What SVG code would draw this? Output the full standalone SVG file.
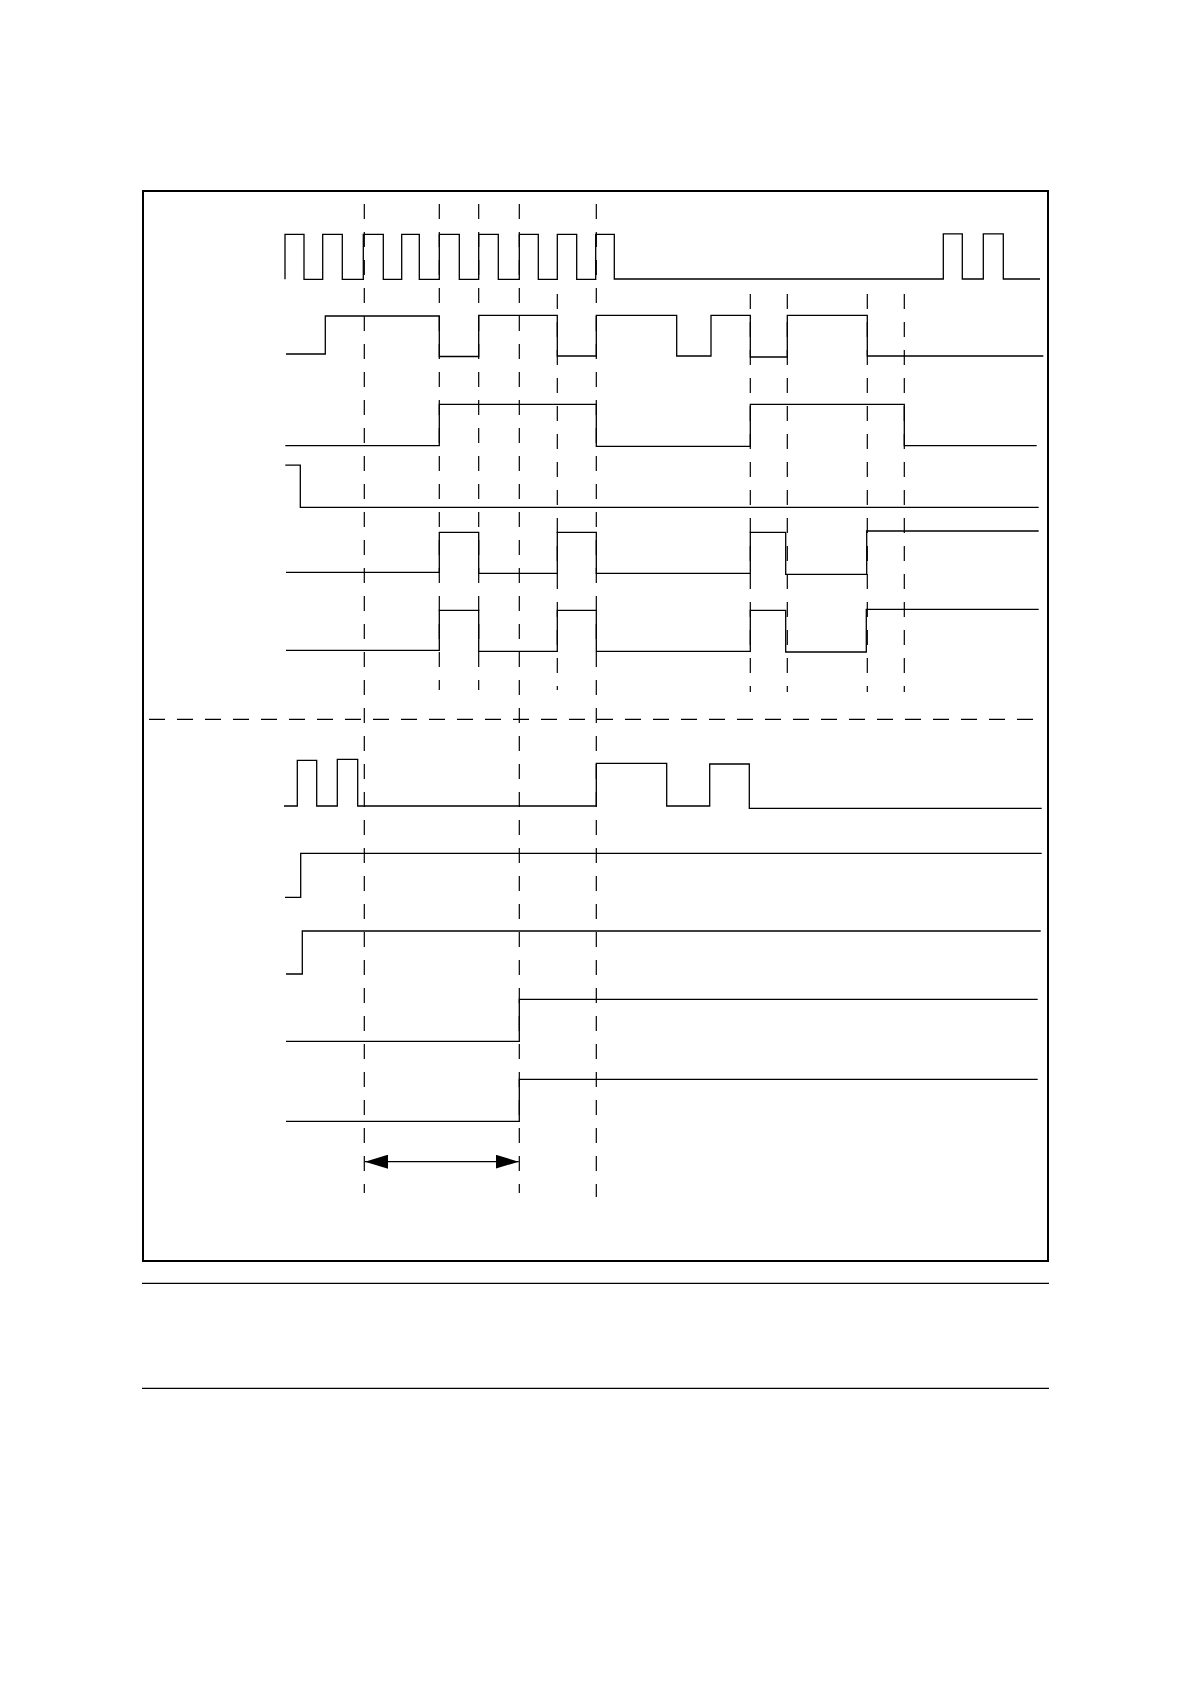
<svg xmlns="http://www.w3.org/2000/svg" width="1190" height="1684" viewBox="0 0 1190 1684">
<defs>
<style>
.sig{fill:none;stroke:#000;stroke-width:1.3;stroke-linejoin:miter}
.dv{fill:none;stroke:#000;stroke-width:1.2;stroke-dasharray:15 13}
.dh{fill:none;stroke:#000;stroke-width:1.2;stroke-dasharray:16 12}
.frame{fill:none;stroke:#000;stroke-width:2}
.rule{fill:none;stroke:#000;stroke-width:1.2}
</style>
<marker id="ah" viewBox="0 0 23 14" refX="23" refY="7" markerWidth="23" markerHeight="14" markerUnits="userSpaceOnUse" orient="auto-start-reverse">
<path d="M0,0 L23,7 L0,14 Z" fill="#000"/>
</marker>
</defs>
<rect width="1190" height="1684" fill="#fff"/>
<rect id="frame" class="frame" x="143" y="191" width="905" height="1070"/>
<line class="rule" x1="142" y1="1283.3" x2="1049" y2="1283.3"/>
<line class="rule" x1="142" y1="1388.3" x2="1049" y2="1388.3"/>

<g id="connectors">
<line class="dh" x1="149" y1="719.3" x2="1042" y2="719.3"/>
<line class="dv" x1="364.3" y1="204" x2="364.3" y2="1193"/>
<line class="dv" x1="439.3" y1="204" x2="439.3" y2="690"/>
<line class="dv" x1="478.7" y1="204" x2="478.7" y2="690"/>
<line class="dv" x1="519.3" y1="204" x2="519.3" y2="1193"/>
<line class="dv" x1="596.3" y1="204" x2="596.3" y2="1197"/>
<line class="dv" x1="557.3" y1="294" x2="557.3" y2="690"/>
<line class="dv" x1="750.3" y1="294" x2="750.3" y2="692"/>
<line class="dv" x1="787.3" y1="294" x2="787.3" y2="692"/>
<line class="dv" x1="867.3" y1="294" x2="867.3" y2="692"/>
<line class="dv" x1="904.3" y1="294" x2="904.3" y2="692"/>
<line id="interval" stroke="#000" stroke-width="1.3" x1="365" y1="1161.7" x2="518.7" y2="1161.7" marker-start="url(#ah)" marker-end="url(#ah)"/>
</g>

<g id="sig1"><path class="sig" d="M285,279.3 V234.3 H304 V279.3 H322.7 V234.3 H342.3 V279.3 H363.3 V234.3 H383.3 V279.3 H401.7 V234.3 H419.3 V279.3 H439.3 V234.3 H459.3 V279.3 H478.7 V234.3 H498.3 V279.3 H519.3 V234.3 H538.3 V279.3 H557.3 V234.3 H576.7 V279.3 H595.7 V234.3 H614.3 V279 H943.3 V233.8 H962.3 V279 H983.3 V233.8 H1003.3 V279 H1040"/></g>
<g id="sig2"><path class="sig" d="M286,354 H325.3 V316 H439.3 V356.5 H478.7 V315.3 H557.3 V356 H596.3 V315.3 H676.7 V356 H711 V315.3 H750.3 V357 H787.3 V315.3 H867.3 V356 H1043.3"/></g>
<g id="sig3"><path class="sig" d="M285.3,445.7 H439.3 V404.3 H596.3 V446.3 H750.3 V404.3 H904.3 V445.7 H1036.7"/></g>
<g id="sig4"><path class="sig" d="M285.3,465.2 H300.3 V507.3 H1038.7"/></g>
<g id="sig5"><path class="sig" d="M286,572.3 H439.3 V532.3 H478.7 V573.3 H557.3 V532.3 H596.3 V573.3 H750.3 V532.3 H785.7 V574.3 H866.7 V531 H1038.7"/></g>
<g id="sig6"><path class="sig" d="M286,650.3 H439.3 V610.3 H478.7 V651.3 H557.3 V610.3 H596.3 V651.3 H750.3 V610.3 H785.7 V652 H866.3 V609.3 H1038.7"/></g>
<g id="sig7"><path class="sig" d="M284,806 H297.3 V760.3 H316.7 V806 H337.3 V759.3 H357.7 V806 H596.3 V763.3 H666.7 V806 H709.7 V764 H749.3 V808.3 H1041.7"/></g>
<g id="sig8"><path class="sig" d="M285,897.3 H300.7 V853.3 H1041.7"/></g>
<g id="sig9"><path class="sig" d="M286,974 H302.3 V931 H1040.7"/></g>
<g id="sig10"><path class="sig" d="M286,1041.3 H519.3 V999.3 H1037.7"/></g>
<g id="sig11"><path class="sig" d="M286,1121.3 H519.3 V1079.3 H1037.7"/></g>
</svg>
